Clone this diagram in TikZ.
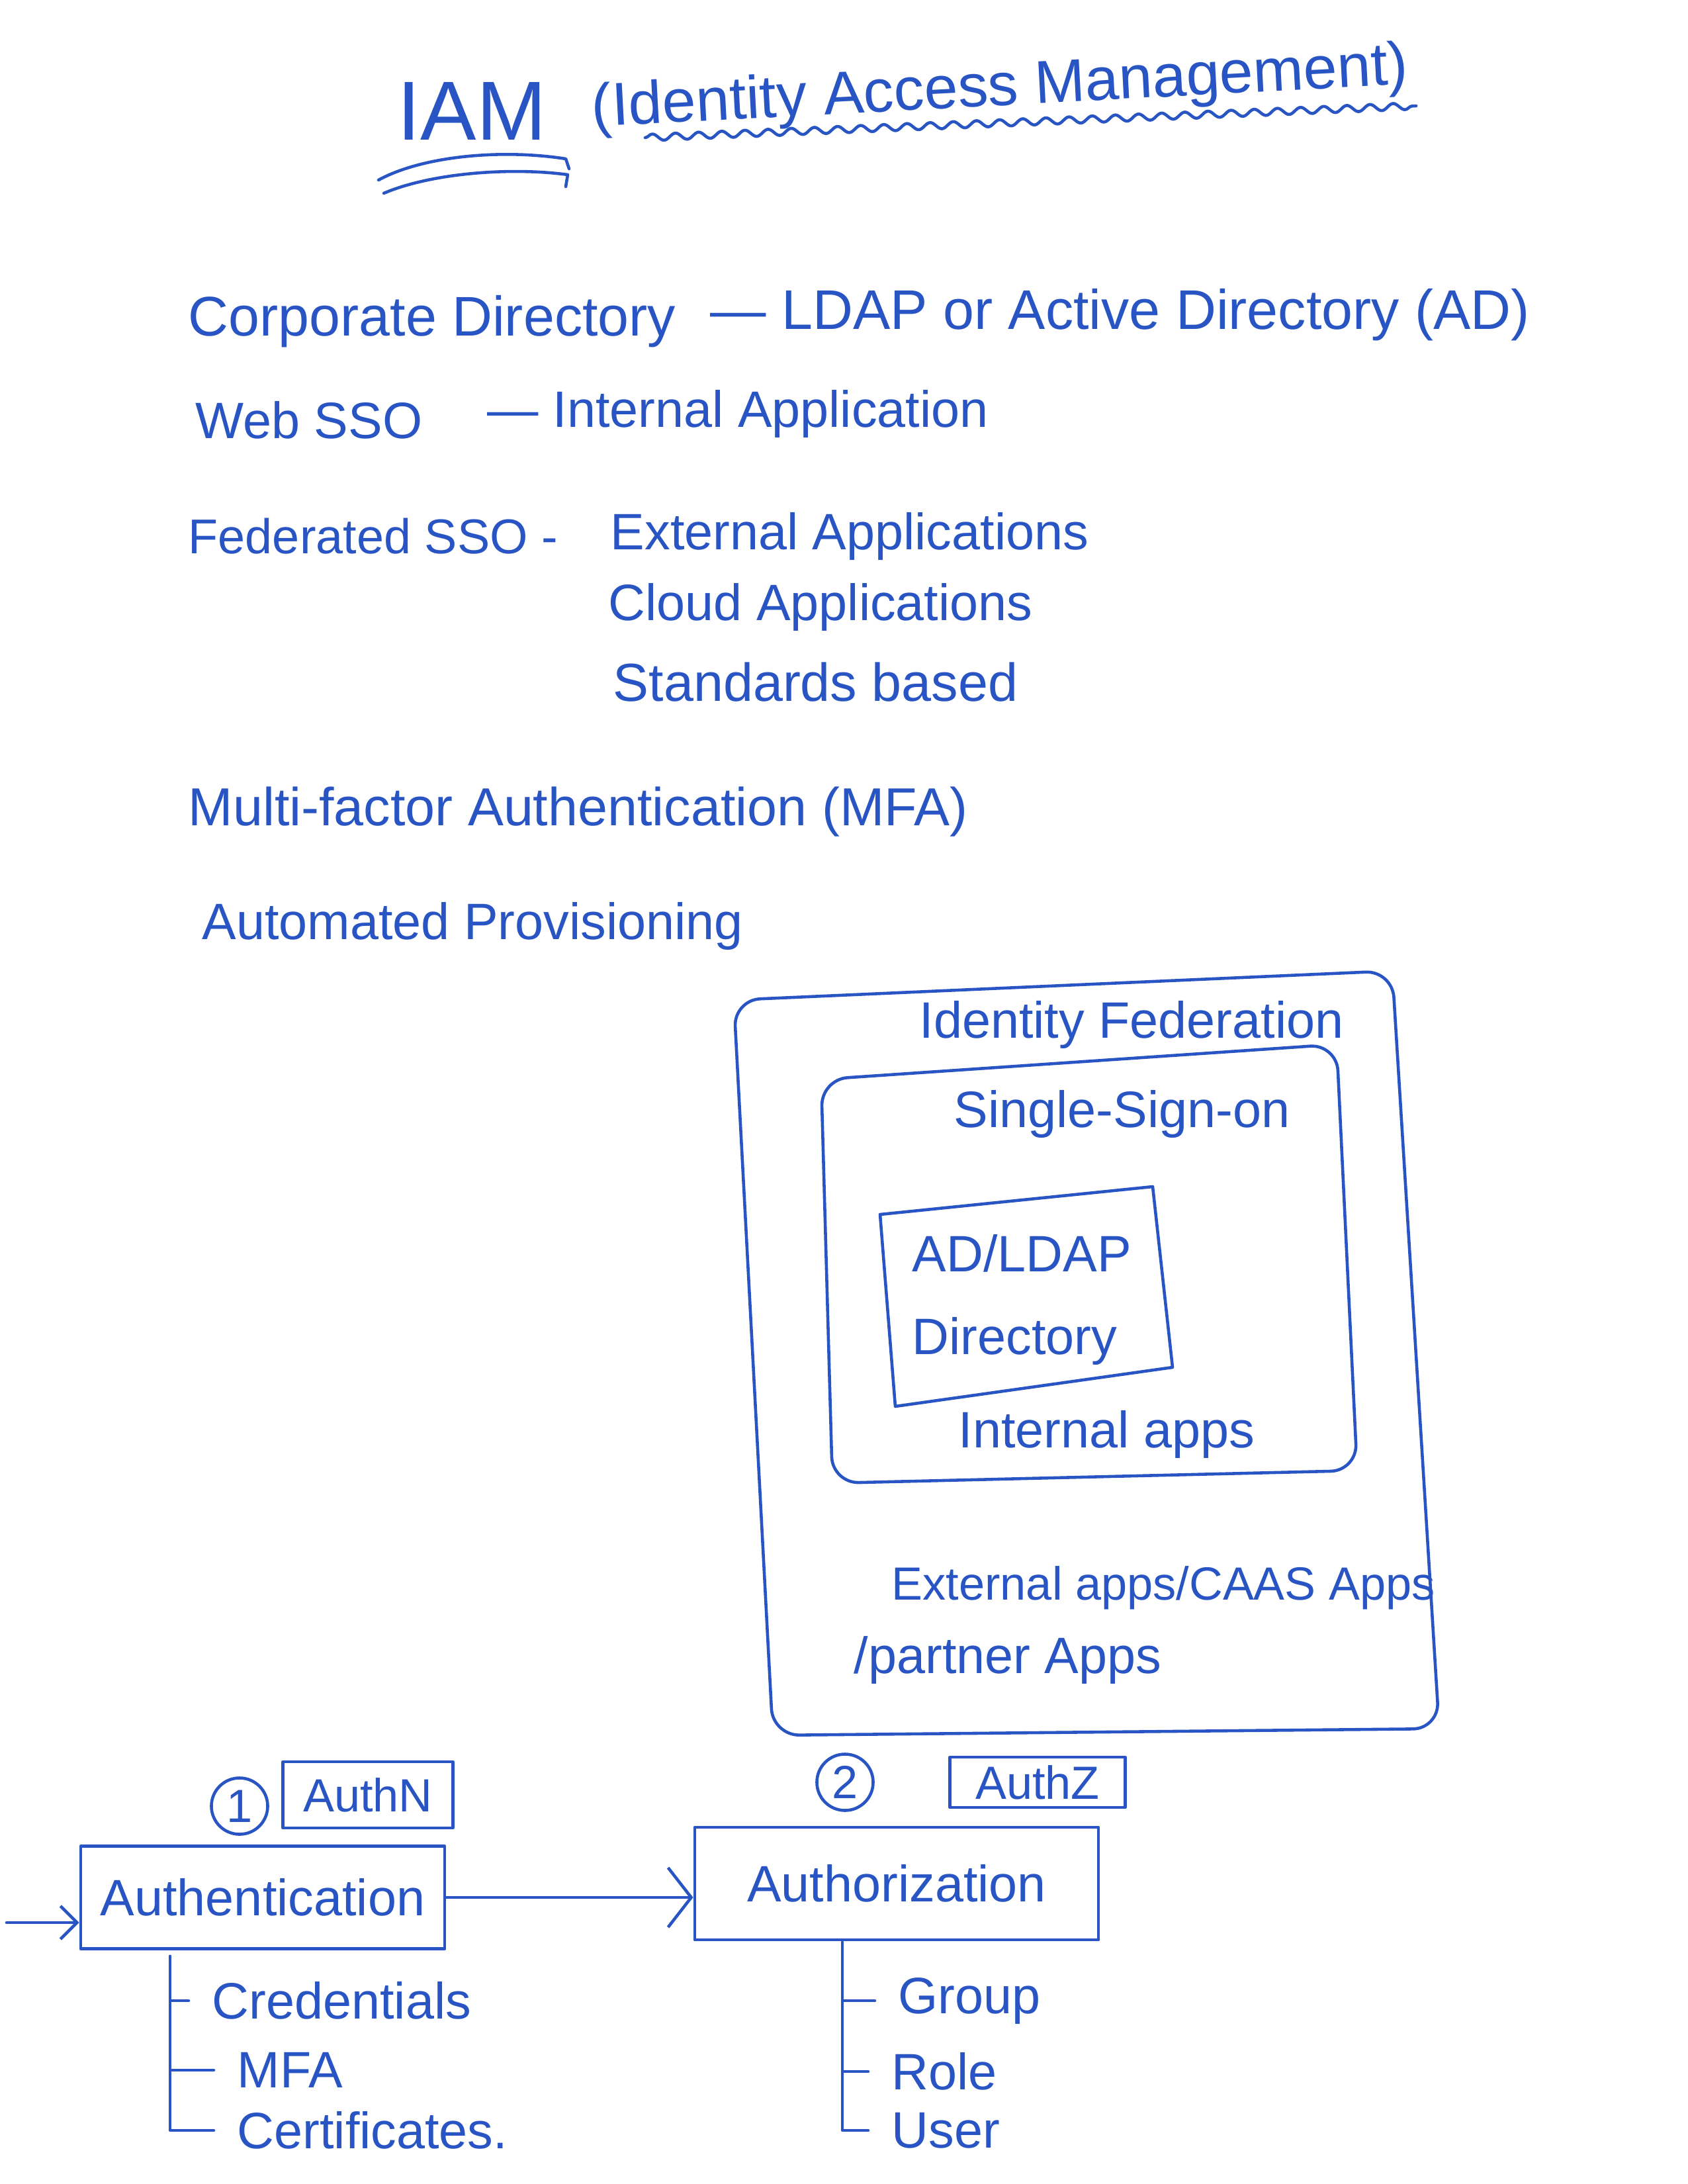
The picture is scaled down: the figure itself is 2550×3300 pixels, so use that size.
\documentclass[tikz,border=0pt]{standalone}
\usepackage{fontspec}
\setmainfont{Liberation Sans}
\usetikzlibrary{positioning,arrows.meta,decorations.pathmorphing}
\definecolor{ink}{RGB}{40,85,195}

\tikzset{
	pen/.style={draw=ink, line width=1.3pt, line cap=round, line join=round},
	hand/.style={text=ink, inner sep=0pt, anchor=west, font=\fontsize{24}{28}\selectfont},
	smallhand/.style={hand, font=\fontsize{22}{26}\selectfont},
	box/.style={pen, text=ink, inner sep=0pt, font=\fontsize{22}{26}\selectfont},
	tag/.style={box, font=\fontsize{20}{24}\selectfont},
	badge/.style={tag, circle, minimum size=0.85cm},
	barb/.style={pen, -{Straight Barb[length=0.35cm,width=0.9cm]}}
}

\begin{document}
\begin{tikzpicture}[x=0.01cm,y=-0.01cm]
			%%%%% START %%%%%
			\useasboundingbox[fill=white] (0,0) rectangle (2550,3300);
			
			% title
			\node[hand, font=\fontsize{36}{40}\selectfont] (iam) at (600,168) {IAM};
			\node[hand, font=\fontsize{26}{30}\selectfont, rotate=3] (iamlong) at (894,168) {(Identity Access Management)};
			\draw[pen, decorate, decoration={snake, amplitude=0.5mm, segment length=3.5mm}] (975,208) -- (2140,160);
			\draw[pen] (572,272) .. controls (640,235) and (760,225) .. (855,240) -- (860,255);
			\draw[pen] (580,292) .. controls (650,262) and (770,252) .. (858,264) -- (855,282);
			
			% list
			\node[hand] (corp) at (284,486) {Corporate Directory};
			\node[hand] (ldap) at (1073,476) {— LDAP or Active Directory (AD)};
			\node[smallhand] (websso) at (295,635) {Web SSO};
			\node[smallhand] (internal) at (736,625) {— Internal Application};
			\node[hand, font=\fontsize{21}{25}\selectfont] (fedsso) at (284,810) {Federated SSO -};
			\node[smallhand] (extapps) at (922,810) {External Applications};
			\node[smallhand] (cloudapps) at (919,917) {Cloud Applications};
			\node[hand, font=\fontsize{23}{27}\selectfont] (stdbased) at (926,1031) {Standards based};
			\node[hand, font=\fontsize{23}{27}\selectfont] (mfaline) at (284,1227) {Multi-factor Authentication (MFA)};
			\node[smallhand] (autoprov) at (305,1399) {Automated Provisioning};
			
			% federation boxes
			\draw[pen, rounded corners=0.4cm] (1109,1511) -- (2104,1467) -- (2175,2612) -- (1168,2622) -- cycle;
			\draw[pen, rounded corners=0.4cm] (1241,1631) -- (2020,1578) -- (2051,2222) -- (1258,2241) -- cycle;
			\draw[pen] (1330,1835) -- (1742,1793) -- (1772,2066) -- (1353,2125) -- cycle;
			
			\node[smallhand] (fed) at (1389,1548) {Identity Federation};
			\node[smallhand] (sso) at (1441,1683) {Single-Sign-on};
			\node[smallhand] (adldap) at (1378,1894) {AD/LDAP};
			\node[smallhand] (directory) at (1378,2026) {Directory};
			\node[smallhand] (intapps) at (1448,2167) {Internal apps};
			\node[hand, font=\fontsize{20}{24}\selectfont] (extcaas) at (1347,2399) {External apps/CAAS Apps};
			\node[smallhand] (partner) at (1290,2508) {/partner Apps};
			
			% authn / authz
			\node[badge] (one) at (362,2729) {1};
			\node[tag, minimum width=2.57cm, minimum height=1cm] (authntag) at (556,2712) {AuthN};
			\node[box, minimum width=5.5cm, minimum height=1.55cm] (authn) at (397,2867) {Authentication};
			
			\node[badge] (two) at (1277,2693) {2};
			\node[tag, minimum width=2.65cm, minimum height=0.76cm] (authztag) at (1568,2693) {AuthZ};
			\node[box, minimum width=6.1cm, minimum height=1.7cm] (authz) at (1355,2846) {Authorization};
			
			\coordinate (entry) at (10,2905);
			\draw[pen, -{Straight Barb[length=0.25cm,width=0.5cm]}] (entry) -- (entry -| authn.west);
			\draw[barb] (authn.east) -- (authn.east -| authz.west);
			
			\node[smallhand] (cred) at (320,3023) {Credentials};
			\node[smallhand] (mfa) at (358,3128) {MFA};
			\node[smallhand] (cert) at (358,3219) {Certificates.};
			\coordinate (trunkn) at (257,2956);
			\foreach \leaf in {cred,mfa,cert}
				\draw[pen] (trunkn) |- ([xshift=-0.35cm]\leaf.west);
			
			\node[smallhand] (group) at (1357,3023) {Group};
			\node[smallhand] (role) at (1347,3130) {Role};
			\node[smallhand] (user) at (1347,3219) {User};
			\coordinate (trunkz) at (1273,2935);
			\foreach \leaf in {group,role,user}
				\draw[pen] (trunkz) |- ([xshift=-0.35cm]\leaf.west);
			
			%%%%% END %%%%%
		\end{tikzpicture}
\end{document}
